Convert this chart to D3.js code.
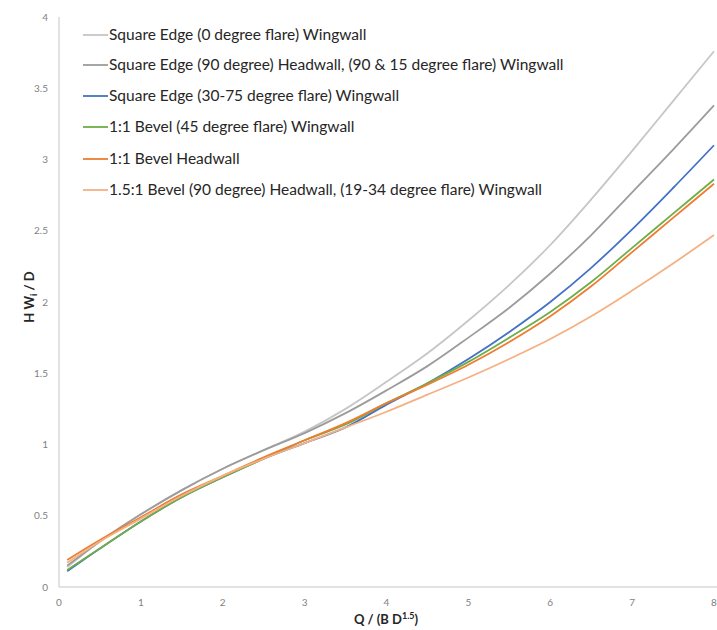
<!DOCTYPE html>
<html>
<head>
<meta charset="utf-8">
<script src="https://cdn.jsdelivr.net/npm/d3@7"></script>
<style>
  body { margin: 0; background: #fff; }
  svg { display: block; font-family: Lato, "Open Sans", sans-serif; }
</style>
</head>
<body>
<svg id="chart" width="717" height="630"></svg>
<script>
// Q / (B D^1.5) values
const xValues = [0.1, 0.5, 1, 1.5, 2, 2.5, 3, 3.5, 4, 4.5, 5, 5.5, 6, 6.5, 7, 7.5, 8];

// HW_i / D per inlet type
const squareEdge0 = [0.14, 0.32, 0.51, 0.68, 0.83, 0.96, 1.09, 1.25, 1.44, 1.64, 1.87, 2.12, 2.40, 2.72, 3.06, 3.41, 3.76];
const squareEdge90 = [0.15, 0.32, 0.51, 0.68, 0.83, 0.96, 1.08, 1.22, 1.38, 1.55, 1.75, 1.96, 2.20, 2.47, 2.77, 3.07, 3.38];
const squareEdge3075 = [0.11, 0.27, 0.46, 0.63, 0.77, 0.90, 1.01, 1.12, 1.28, 1.43, 1.60, 1.79, 2.00, 2.24, 2.51, 2.80, 3.10];
const bevel45 = [0.12, 0.27, 0.46, 0.63, 0.77, 0.90, 1.03, 1.14, 1.29, 1.43, 1.58, 1.75, 1.93, 2.14, 2.38, 2.62, 2.86];
const bevelHeadwall = [0.19, 0.33, 0.49, 0.65, 0.78, 0.91, 1.03, 1.15, 1.29, 1.42, 1.56, 1.72, 1.90, 2.11, 2.35, 2.59, 2.83];
const bevel15 = [0.17, 0.32, 0.48, 0.64, 0.78, 0.90, 1.01, 1.12, 1.23, 1.35, 1.47, 1.60, 1.74, 1.90, 2.08, 2.27, 2.47];

const seriesNames = [
  "Square Edge (0 degree flare) Wingwall",
  "Square Edge (90 degree) Headwall, (90 & 15 degree flare) Wingwall",
  "Square Edge (30-75 degree flare) Wingwall",
  "1:1 Bevel (45 degree flare) Wingwall",
  "1:1 Bevel Headwall",
  "1.5:1 Bevel (90 degree) Headwall, (19-34 degree flare) Wingwall"
];
const seriesValues = [squareEdge0, squareEdge90, squareEdge3075, bevel45, bevelHeadwall, bevel15];
const seriesColors = ["#c6c6c6", "#9c9c9c", "#4472c4", "#70ad47", "#ed7d31", "#f4b183"];

const xTicks = [0, 1, 2, 3, 4, 5, 6, 7, 8];
const yTicks = [0, 0.5, 1, 1.5, 2, 2.5, 3, 3.5, 4];

const svg = d3.select("#chart");

const x = d3.scaleLinear().domain([0, 8]).range([59, 714]);
const y = d3.scaleLinear().domain([0, 4]).range([587, 17]);

// axis lines
svg.append("line")
  .attr("x1", x(0)).attr("x2", x(0))
  .attr("y1", y(4)).attr("y2", y(0))
  .style("stroke", "#d9d9d9").style("stroke-width", 1.5);
svg.append("line")
  .attr("x1", x(0)).attr("x2", 717)
  .attr("y1", y(0)).attr("y2", y(0))
  .style("stroke", "#d9d9d9").style("stroke-width", 1.5);

// tick labels
svg.append("g").selectAll("text")
  .data(yTicks)
  .enter().append("text")
  .attr("x", 48)
  .attr("y", d => y(d) + 3.5)
  .attr("text-anchor", "end")
  .style("font-size", "10px")
  .style("fill", "#7f7f7f")
  .text(d => d);

svg.append("g").selectAll("text")
  .data(xTicks)
  .enter().append("text")
  .attr("x", d => x(d))
  .attr("y", 606)
  .attr("text-anchor", "middle")
  .style("font-size", "10px")
  .style("fill", "#7f7f7f")
  .text(d => d);

// axis titles
const yTitle = svg.append("text")
  .attr("transform", "translate(34,297) rotate(-90)")
  .attr("text-anchor", "middle")
  .style("font-size", "13px")
  .style("font-weight", "bold")
  .style("fill", "#262626");
yTitle.append("tspan").text("H W");
yTitle.append("tspan").attr("dy", 3).style("font-size", "9px").text("i");
yTitle.append("tspan").attr("dy", -3).text(" / D");

const xTitle = svg.append("text")
  .attr("x", 386)
  .attr("y", 624)
  .attr("text-anchor", "middle")
  .style("font-size", "13px")
  .style("font-weight", "bold")
  .style("fill", "#262626");
xTitle.append("tspan").text("Q / (B D");
xTitle.append("tspan").attr("dy", -5).style("font-size", "9px").text("1.5");
xTitle.append("tspan").attr("dy", 5).text(")");

// series lines
const line = d3.line()
  .x((d, i) => x(xValues[i]))
  .y(d => y(d))
  .curve(d3.curveCatmullRom.alpha(0.5));

svg.append("g").selectAll("path")
  .data(seriesValues)
  .enter().append("path")
  .attr("d", line)
  .style("fill", "none")
  .style("stroke", (d, i) => seriesColors[i])
  .style("stroke-width", 1.8);

// legend
const legendRows = [35, 65, 96, 127, 159, 190];
const legend = svg.append("g").selectAll("g")
  .data(seriesNames)
  .enter().append("g")
  .attr("transform", (d, i) => "translate(0," + legendRows[i] + ")");

legend.append("line")
  .attr("x1", 83).attr("x2", 108)
  .attr("y1", 0).attr("y2", 0)
  .style("stroke", (d, i) => seriesColors[i])
  .style("stroke-width", 1.8);

legend.append("text")
  .attr("x", 109)
  .attr("y", 5)
  .style("font-size", "15.5px")
  .style("fill", "#262626")
  .text(d => d);
</script>
</body>
</html>
